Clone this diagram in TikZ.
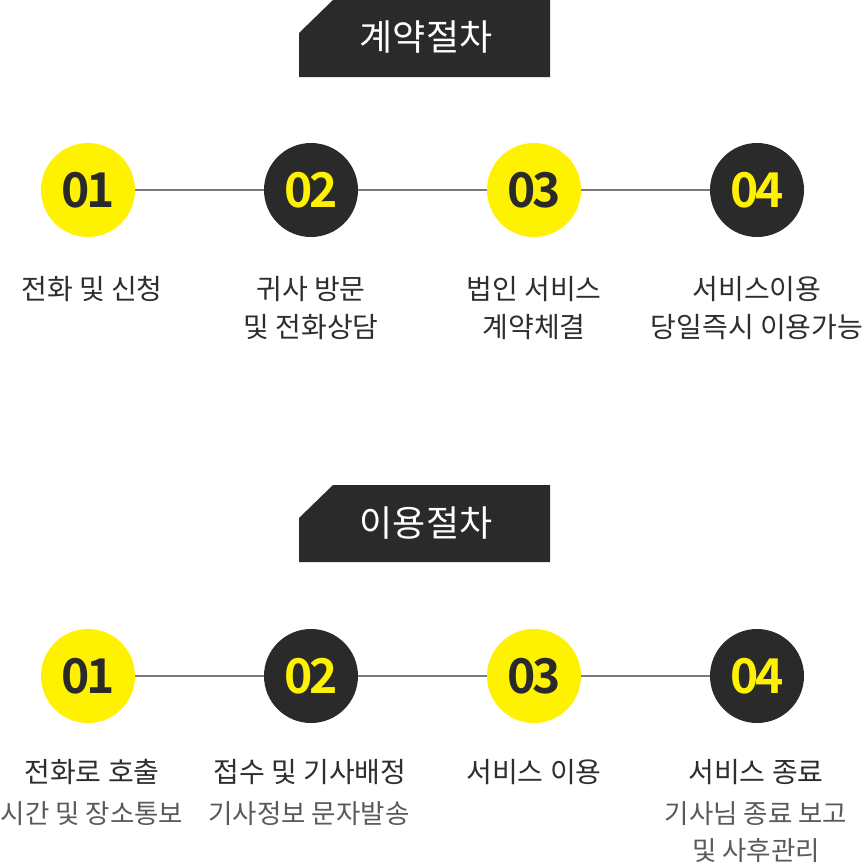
\documentclass[tikz,border=0pt]{standalone}
\usepackage{fontspec}
\setmainfont{Noto Sans CJK KR}
\newfontfamily\krbold[LetterSpace=-7]{Noto Sans CJK KR Bold}
\definecolor{dark}{HTML}{2A2A2A}
\definecolor{yel}{HTML}{FFF200}
\definecolor{linegray}{HTML}{7A7A7A}
\definecolor{txt}{HTML}{2E2E2E}
\definecolor{subtxt}{HTML}{5A5A5A}
\begin{document}
\begin{tikzpicture}[x=1pt,y=-1pt,
  ycirc/.style={circle,fill=yel,minimum size=94pt,inner sep=0pt,text=dark,font=\krbold\fontsize{48}{48}\selectfont},
  dcirc/.style={circle,fill=dark,minimum size=94pt,inner sep=0pt,text=yel,font=\krbold\fontsize{48}{48}\selectfont},
  conn/.style={draw=linegray,line width=2pt},
  lab/.style={align=center,text=txt,inner sep=0pt,font=\fontsize{28}{38}\selectfont},
  mainlab/.style={align=center,text=txt,inner sep=0pt,font=\fontsize{28}{38}\selectfont},
  sublab/.style={align=center,text=subtxt,inner sep=0pt,font=\fontsize{26.5}{37}\selectfont},
  tabtext/.style={text=white,inner sep=0pt,font=\fontsize{36}{36}\selectfont}]
\useasboundingbox[fill=white] (0,0) rectangle (864,863);
% tab 1
\fill[dark] (299,33) -- (333,0) -- (550,0) -- (550,77) -- (299,77) -- cycle;
\node[tabtext] (t1) at (426,37) {계약절차};
% tab 2
\fill[dark] (299,518) -- (333,485) -- (550,485) -- (550,562) -- (299,562) -- cycle;
\node[tabtext] (t2) at (426,523) {이용절차};
% row 1
\node[ycirc] (a1) at (88,190) {01};
\node[dcirc] (a2) at (311,190) {02};
\node[ycirc] (a3) at (534,190) {03};
\node[dcirc] (a4) at (757,190) {04};
\draw[conn] (a1) -- (a2);
\draw[conn] (a2) -- (a3);
\draw[conn] (a3) -- (a4);
\node[lab,anchor=north] (la1) at (92,276.5) {전화 및 신청};
\node[lab,anchor=north] (la2) at (311,276.5) {귀사 방문\\및 전화상담};
\node[lab,anchor=north] (la3) at (534,276.5) {법인 서비스\\계약체결};
\node[lab,anchor=north] (la4) at (757,276.5) {서비스이용\\당일즉시 이용가능};
% row 2
\node[ycirc] (b1) at (88,676) {01};
\node[dcirc] (b2) at (311,676) {02};
\node[ycirc] (b3) at (534,676) {03};
\node[dcirc] (b4) at (757,676) {04};
\draw[conn] (b1) -- (b2);
\draw[conn] (b2) -- (b3);
\draw[conn] (b3) -- (b4);
\node[mainlab] (lb1) at (92,772) {전화로 호출};
\node[mainlab] (lb2) at (310,772) {접수 및 기사배정};
\node[mainlab] (lb3) at (534,772) {서비스 이용};
\node[mainlab] (lb4) at (756,772) {서비스 종료};
\node[sublab] (sb1) at (92,814) {시간 및 장소통보};
\node[sublab] (sb2) at (309,814) {기사정보 문자발송};
\node[sublab,anchor=north] (sb4) at (756,801) {기사님 종료 보고\\및 사후관리};
\end{tikzpicture}
\end{document}
